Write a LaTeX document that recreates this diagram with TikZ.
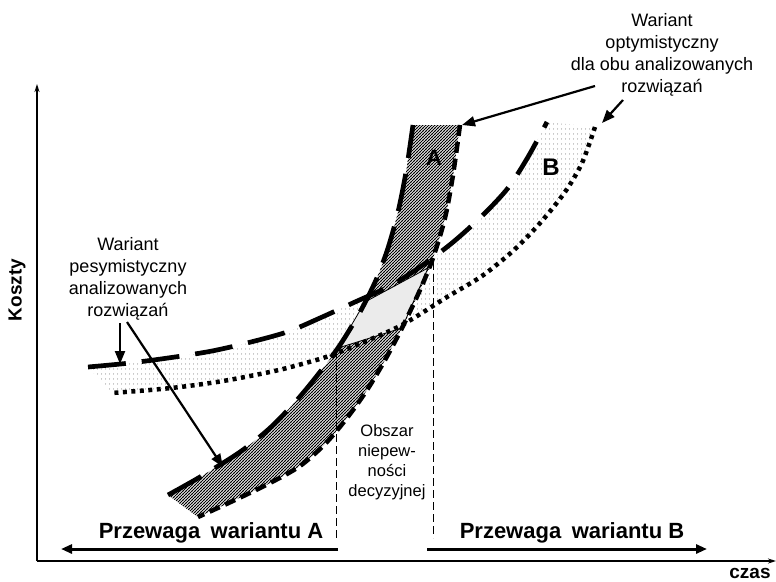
\documentclass[tikz,border=0pt]{standalone}
\usepackage{fontspec}
\setmainfont{Liberation Sans}
\usetikzlibrary{arrows.meta,patterns.meta}

% diagonal hatching for variant A
\tikzdeclarepattern{
  name=hatchA, type=colored,
  bottom left={(-0.5pt,-0.5pt)}, top right={(3.5pt,3.5pt)},
  tile size={(3pt,3pt)},
  code={\draw[line width=0.75pt,black] (-0.5pt,-0.5pt) -- (3.5pt,3.5pt);}
}
% sparse grey dots for variant B
\tikzdeclarepattern{
  name=dotsB, type=colored,
  bottom left={(0pt,0pt)}, top right={(4pt,5pt)},
  tile size={(4pt,5pt)},
  code={\fill[black!60] (2pt,2.5pt) circle[radius=0.6pt];}
}

\begin{document}
\begin{tikzpicture}[x=1pt,y=-1pt,
  pess/.style={line width=4.7pt, dash pattern=on 38pt off 16pt},
  optA/.style={line width=4.5pt, dash pattern=on 11pt off 6pt},
  optB/.style={line width=4.5pt, dash pattern=on 4pt off 4.5pt},
  axisline/.style={line width=1.5pt, -{Stealth[length=8pt,width=5pt]}},
  bigarrow/.style={line width=3pt, -{Triangle[length=11pt,width=9pt]}},
  pointer/.style={line width=2.2pt, -{Triangle[length=13pt,width=10pt]}},
  guide/.style={line width=0.9pt, dash pattern=on 8pt off 4pt},
  lbl/.style={inner sep=0pt, align=center, font={\fontsize{18}{22}\selectfont}},
  lblsmall/.style={inner sep=0pt, align=center, font={\fontsize{16.5}{20}\selectfont}},
  bold/.style={inner sep=0pt, font={\fontsize{22}{26}\selectfont\bfseries}},
  axlbl/.style={inner sep=0pt, font={\fontsize{19}{22}\selectfont\bfseries}}]
\useasboundingbox (0,0) rectangle (776,581);

% region of variant B (dotted)
\fill[pattern=dotsB]
  plot[smooth] coordinates {(88,367) (130,363) (175,357) (212,351) (247,343) (287,332)
    (320,318) (355,302) (390,286) (420,267) (452,243) (482,216) (508,188) (528,157) (547,122)}
  -- plot[smooth] coordinates {(595,127) (582,163) (565,192) (541,222) (514,250) (482,276)
    (447,297) (400,326) (347,349) (323,358) (283,369) (250,376) (217,382) (180,387) (150,390) (112,393)}
  -- cycle;

% region of variant A (hatched)
\path[preaction={fill=white}, pattern=hatchA]
  plot[smooth] coordinates {(168,495) (200,477) (240,452) (270,428) (297,400) (320,372)
    (340,345) (360,312) (376,280) (388,248) (398,212) (406,172) (413,125)}
  -- plot[smooth] coordinates {(460,125) (453,175) (445,218) (433,258) (420,290) (402,328)
    (385,360) (367,390) (347,418) (325,444) (300,466) (270,483) (235,500) (198,517)}
  -- cycle;

% region of decision uncertainty
\coordinate (p1) at (338,348);
\coordinate (p2) at (365,302);
\coordinate (p3) at (428,268);
\coordinate (p4) at (402,328);
\fill[black!8, draw=black, line width=0.8pt] (p1) -- (p2) -- (p3) -- (p4) -- cycle;

% vertical guides bounding the uncertainty region
\coordinate (gA1) at (336,350);
\coordinate (gA2) at (336,538);
\coordinate (gB1) at (433,262);
\coordinate (gB2) at (433,538);
\draw[guide] (gA1) -- (gA2);
\draw[guide] (gB1) -- (gB2);

% variant B: pessimistic (upper) and optimistic (lower) curves
\draw[pess] plot[smooth] coordinates {(88,367) (130,363) (175,357) (212,351) (247,343) (287,332)
    (320,318) (355,302) (390,286) (420,267) (452,243) (482,216) (508,188) (528,157) (547,122)};
\draw[optB] plot[smooth] coordinates {(595,127) (582,163) (565,192) (541,222) (514,250) (482,276)
    (447,297) (400,326) (347,349) (323,358) (283,369) (250,376) (217,382) (180,387) (150,390) (112,393)};

% variant A: pessimistic (upper) and optimistic (lower) curves
\draw[pess] plot[smooth] coordinates {(168,495) (200,477) (240,452) (270,428) (297,400) (320,372)
    (340,345) (360,312) (376,280) (388,248) (398,212) (406,172) (413,125)};
\draw[optA] plot[smooth] coordinates {(460,125) (453,175) (445,218) (433,258) (420,290) (402,328)
    (385,360) (367,390) (347,418) (325,444) (300,466) (270,483) (235,500) (198,517)};

% axes
\coordinate (O) at (37,561);
\coordinate (ytop) at (37,84);
\coordinate (xend) at (776,561);
\draw[axisline] (O) -- (ytop);
\draw[axisline] (O) -- (xend);
\node[axlbl, rotate=90] (koszty) at (17,290) {Koszty};
\node[axlbl] (czas) at (750,573) {czas};

% curve letters
\node[bold] (labA) at (434,158) {A};
\node[bold, font={\fontsize{24}{28}\selectfont\bfseries}] (labB) at (551,167) {B};

% advantage arrows
\node[bold] (przA) at (211,533) {Przewaga\hspace{0.2em} wariantu A};
\node[bold] (przB) at (572,533) {Przewaga\hspace{0.2em} wariantu B};
\coordinate (aA1) at (338,549);
\coordinate (aA2) at (61,549);
\coordinate (aB1) at (427,549);
\coordinate (aB2) at (707,549);
\draw[bigarrow] (aA1) -- (aA2);
\draw[bigarrow] (aB1) -- (aB2);

% uncertainty label
\node[lblsmall] (obszar) at (387,462) {Obszar\\niepew-\\ności\\decyzyjnej};

% optimistic variant label with pointers
\node[lbl] (optlbl) at (662,55) {Wariant\\optymistyczny\\dla obu analizowanych\\rozwiązań};
\coordinate (o1s) at (595,86);
\coordinate (o1e) at (462,125);
\coordinate (o2s) at (623,100);
\coordinate (o2e) at (602,123);
\draw[pointer] (o1s) -- (o1e);
\draw[pointer] (o2s) -- (o2e);

% pessimistic variant label with pointers
\node[lbl] (pesslbl) at (128,279) {Wariant\\pesymistyczny\\analizowanych\\rozwiązań};
\coordinate (s1s) at (120,323);
\coordinate (s1e) at (120,364);
\coordinate (s2s) at (127,322);
\coordinate (s2e) at (223,467);
\draw[pointer] (s1s) -- (s1e);
\draw[pointer] (s2s) -- (s2e);
\end{tikzpicture}
\end{document}
